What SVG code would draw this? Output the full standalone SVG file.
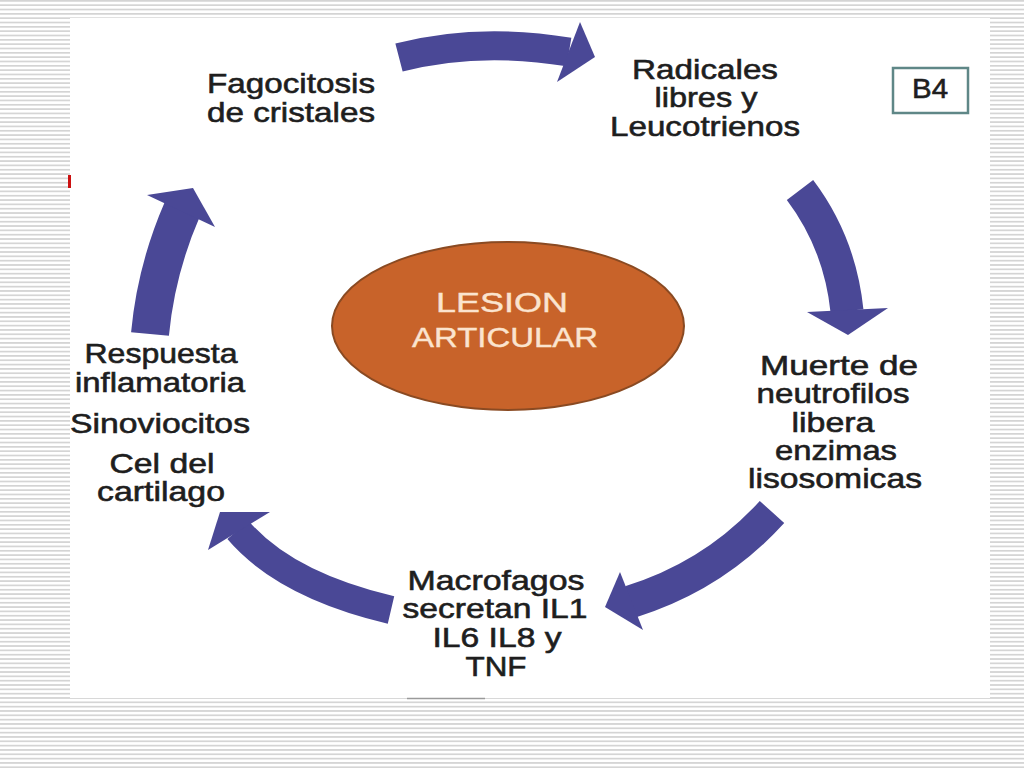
<svg xmlns="http://www.w3.org/2000/svg" width="1024" height="768" viewBox="0 0 1024 768">
  <defs>
    <pattern id="stripes" x="0" y="0" width="8" height="4.33" patternUnits="userSpaceOnUse">
      <rect x="0" y="0" width="8" height="1.7" fill="#d4d4d4"/>
    </pattern>
  </defs>
  <style>
    .lbl { font-family: "Liberation Sans", Arial, sans-serif; font-size: 28px; fill: #1e1e1e; stroke: #1e1e1e; stroke-width: 0.6px; text-anchor: middle; }
    .light { fill: #fbe4cf; stroke: #fbe4cf; stroke-width: 0.4px; }
    .body { fill: none; stroke: #4a4896; stroke-linecap: butt; }
    .head { fill: #4a4896; }
  </style>
  <rect x="0" y="0" width="1024" height="768" fill="#ffffff"/>
  <rect x="0" y="0" width="1024" height="768" fill="url(#stripes)"/>
  <rect x="70" y="18" width="920" height="680" fill="#ffffff"/>
  <rect x="68" y="175" width="3" height="13" fill="#cc1111"/>
  <line x1="407" y1="698.5" x2="485" y2="698.5" stroke="#9a9a9a" stroke-width="1.5"/>

  <g id="connectors">
    <g id="arrow-top">
      <path class="body" stroke-width="29" d="M399,57.5 Q478,37 569,52"/>
      <polygon class="head" points="580,22 595,57 557,82"/>
    </g>
    <g id="arrow-right">
      <path class="body" stroke-width="33" d="M800,190 Q840,243 847,311"/>
      <polygon class="head" points="807,312 888,308 848,335"/>
    </g>
    <g id="arrow-lower-right">
      <path class="body" stroke-width="33" d="M772,512 Q714,576 630,602"/>
      <polygon class="head" points="620,572 643,630 605,607"/>
    </g>
    <g id="arrow-lower-left">
      <path class="body" stroke-width="28" d="M391,610 Q285,585 238,530"/>
      <polygon class="head" points="270,512 208,550 220,512"/>
    </g>
    <g id="arrow-left">
      <path class="body" stroke-width="38" d="M150,334 Q156,270 182,210"/>
      <polygon class="head" points="147,195 215,227 193,188"/>
    </g>
  </g>

  <g id="node-center">
    <ellipse cx="508" cy="326" rx="176" ry="84" fill="#c8632a" stroke="#8a4a22" stroke-width="2"/>
    <text class="lbl light" x="502" y="312" font-size="26" textLength="132" lengthAdjust="spacingAndGlyphs">LESION</text>
    <text class="lbl light" x="505" y="347" font-size="26" textLength="186" lengthAdjust="spacingAndGlyphs">ARTICULAR</text>
  </g>

  <g id="node-fagocitosis">
    <text class="lbl" x="291" y="93" textLength="168" lengthAdjust="spacingAndGlyphs">Fagocitosis</text>
    <text class="lbl" x="291" y="122" textLength="168" lengthAdjust="spacingAndGlyphs">de cristales</text>
  </g>

  <g id="node-radicales">
    <text class="lbl" x="705" y="79" textLength="146" lengthAdjust="spacingAndGlyphs">Radicales</text>
    <text class="lbl" x="706" y="107" textLength="103" lengthAdjust="spacingAndGlyphs">libres y</text>
    <text class="lbl" x="705" y="136" textLength="190" lengthAdjust="spacingAndGlyphs">Leucotrienos</text>
  </g>

  <g id="node-b4">
    <rect x="893" y="68" width="75" height="45" fill="#ffffff" stroke="#5f8787" stroke-width="2.5"/>
    <text class="lbl" x="930" y="98" font-size="24" textLength="36" lengthAdjust="spacingAndGlyphs">B4</text>
  </g>

  <g id="node-muerte">
    <text class="lbl" x="839" y="375" textLength="158" lengthAdjust="spacingAndGlyphs">Muerte de</text>
    <text class="lbl" x="833" y="403" textLength="153" lengthAdjust="spacingAndGlyphs">neutrofilos</text>
    <text class="lbl" x="833" y="432" textLength="83" lengthAdjust="spacingAndGlyphs">libera</text>
    <text class="lbl" x="836" y="460" textLength="122" lengthAdjust="spacingAndGlyphs">enzimas</text>
    <text class="lbl" x="835" y="488" textLength="174" lengthAdjust="spacingAndGlyphs">lisosomicas</text>
  </g>

  <g id="node-macrofagos">
    <text class="lbl" x="496" y="590" textLength="177" lengthAdjust="spacingAndGlyphs">Macrofagos</text>
    <text class="lbl" x="495" y="618" textLength="185" lengthAdjust="spacingAndGlyphs">secretan IL1</text>
    <text class="lbl" x="497" y="647" textLength="129" lengthAdjust="spacingAndGlyphs">IL6 IL8 y</text>
    <text class="lbl" x="496" y="676" textLength="61" lengthAdjust="spacingAndGlyphs">TNF</text>
  </g>

  <g id="node-respuesta">
    <text class="lbl" x="161" y="363" textLength="153" lengthAdjust="spacingAndGlyphs">Respuesta</text>
    <text class="lbl" x="160" y="392" textLength="170" lengthAdjust="spacingAndGlyphs">inflamatoria</text>
    <text class="lbl" x="160" y="433" textLength="180" lengthAdjust="spacingAndGlyphs">Sinoviocitos</text>
    <text class="lbl" x="162" y="473" textLength="105" lengthAdjust="spacingAndGlyphs">Cel del</text>
    <text class="lbl" x="161" y="501" textLength="128" lengthAdjust="spacingAndGlyphs">cartilago</text>
  </g>
</svg>
